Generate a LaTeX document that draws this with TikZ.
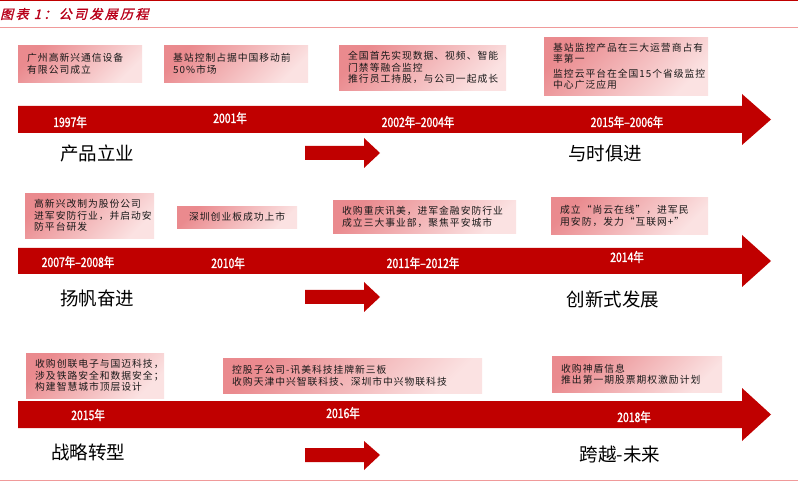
\documentclass[tikz,border=0pt]{standalone}
\usepackage{fontspec}
\newfontfamily\cjk[LetterSpace=10]{Noto Sans CJK SC}
\newfontfamily\cjkbig{Noto Sans CJK SC}
\newfontfamily\yearfont[FakeStretch=0.8,FakeBold=1.5]{Noto Sans CJK SC}
\newfontfamily\titlefont[FakeSlant=0.25,FakeBold=1.5,LetterSpace=18]{Noto Sans CJK SC}
\definecolor{bandred}{HTML}{C00000}
\definecolor{boxdark}{HTML}{EA8A8E}
\definecolor{boxlight}{HTML}{FBE2E2}
\definecolor{rulepink}{HTML}{F09A9A}
\definecolor{titlered}{HTML}{B8001A}
\tikzset{
  infobox/.style={anchor=north west, inner xsep=9pt, inner ysep=0pt, align=left,
    font=\cjk\fontsize{9.8}{11.5}\selectfont, text=black!90,
    top color=boxdark, bottom color=boxlight, shading angle=45},
  yearlbl/.style={text=white, inner sep=0pt, font=\yearfont\fontsize{13}{14}\selectfont},
  stagelbl/.style={text=black, inner sep=0pt, font=\cjkbig\fontsize{18.5}{20}\selectfont},
}
\begin{document}
\begin{tikzpicture}[x=1pt,y=-1pt]
\useasboundingbox (0,0) rectangle (798,486);
% rules
\fill[bandred] (0,0) rectangle (798,1.5);
\draw[rulepink, line width=0.8pt] (0,27) -- (798,27);
\draw[rulepink, line width=0.8pt] (0,480) -- (798,480);
\node[anchor=west, inner sep=0pt, text=titlered, font=\titlefont\fontsize{13}{14}\selectfont] (title) at (0,14) {图表 1：公司发展历程};

% big arrows
\fill[bandred] (18,106) -- (742,106) -- (742,94) -- (771,119.5) -- (742,145) -- (742,133) -- (18,133) -- cycle;
\fill[bandred] (18,248) -- (742,248) -- (742,235) -- (771,261) -- (742,287) -- (742,274) -- (18,274) -- cycle;
\fill[bandred] (18,401) -- (742,401) -- (742,388) -- (771,414.5) -- (742,441) -- (742,428) -- (18,428) -- cycle;
% small arrows
\fill[bandred] (305,146) -- (364,146) -- (364,138) -- (380,153) -- (364,168) -- (364,160) -- (305,160) -- cycle;
\fill[bandred] (305,290) -- (364,290) -- (364,282) -- (380,297) -- (364,312) -- (364,304) -- (305,304) -- cycle;
\fill[bandred] (305,448) -- (364,448) -- (364,441) -- (380,455) -- (364,470) -- (364,462) -- (305,462) -- cycle;

% row 1 boxes
\node[infobox, minimum height=37pt, text width=106pt] (bA) at (18,45) {广州高新兴通信设备\\有限公司成立};
\node[infobox, minimum height=37pt, text width=126pt] (bB) at (164,45) {基站控制占据中国移动前\\50\%市场};
\node[infobox, minimum height=45pt, text width=149pt] (bC) at (339,45) {全国首先实现数据、视频、智能\\门禁等融合监控\\推行员工持股，与公司一起成长};
\node[infobox, minimum height=58pt, text width=146pt] (bD) at (544,37) {基站监控产品在三大运营商占有\\率第一\\[3pt]监控云平台在全国15个省级监控\\中心广泛应用};

% row 2 boxes
\node[infobox, minimum height=45pt, text width=111pt] (bE) at (25,193) {高新兴改制为股份公司\\进军安防行业，并启动安\\防平台研发};
\node[infobox, minimum height=22pt, text width=102pt, align=center] (bF) at (177,206) {深圳创业板成功上市};
\node[infobox, minimum height=33pt, text width=165pt] (bG) at (333,200) {收购重庆讯美，进军金融安防行业\\成立三大事业部，聚焦平安城市};
\node[infobox, minimum height=37pt, text width=139pt] (bH) at (551,197) {成立“尚云在线”，进军民\\用安防，发力“互联网+”};

% row 3 boxes
\node[infobox, minimum height=45pt, text width=120pt] (bI) at (26,353) {收购创联电子与国迈科技，\\涉及铁路安全和数据安全；\\构建智慧城市顶层设计};
\node[infobox, minimum height=35pt, text width=241pt] (bJ) at (223,358) {控股子公司-讯美科技挂牌新三板\\收购天津中兴智联科技、深圳市中兴物联科技};
\node[infobox, minimum height=36pt, text width=152pt] (bK) at (552,356) {收购神盾信息\\推出第一期股票期权激励计划};

% year labels
\node[yearlbl] (y1) at (70,122) {1997年};
\node[yearlbl] (y2) at (230,118) {2001年};
\node[yearlbl] (y3) at (418,122) {2002年–2004年};
\node[yearlbl] (y4) at (627,122) {2015年–2006年};
\node[yearlbl] (y5) at (78,262) {2007年–2008年};
\node[yearlbl] (y6) at (228,263) {2010年};
\node[yearlbl] (y7) at (423,263) {2011年–2012年};
\node[yearlbl] (y8) at (627,257) {2014年};
\node[yearlbl] (y9) at (88,415) {2015年};
\node[yearlbl] (y10) at (343,413) {2016年};
\node[yearlbl] (y11) at (634,417) {2018年};

% stage labels
\node[stagelbl] (s1) at (97,153) {产品立业};
\node[stagelbl] (s2) at (605,153) {与时俱进};
\node[stagelbl] (s3) at (97,299) {扬帆奋进};
\node[stagelbl] (s4) at (613,299) {创新式发展};
\node[stagelbl] (s5) at (88,452) {战略转型};
\node[stagelbl] (s6) at (620,455) {跨越-未来};
\end{tikzpicture}
\end{document}
